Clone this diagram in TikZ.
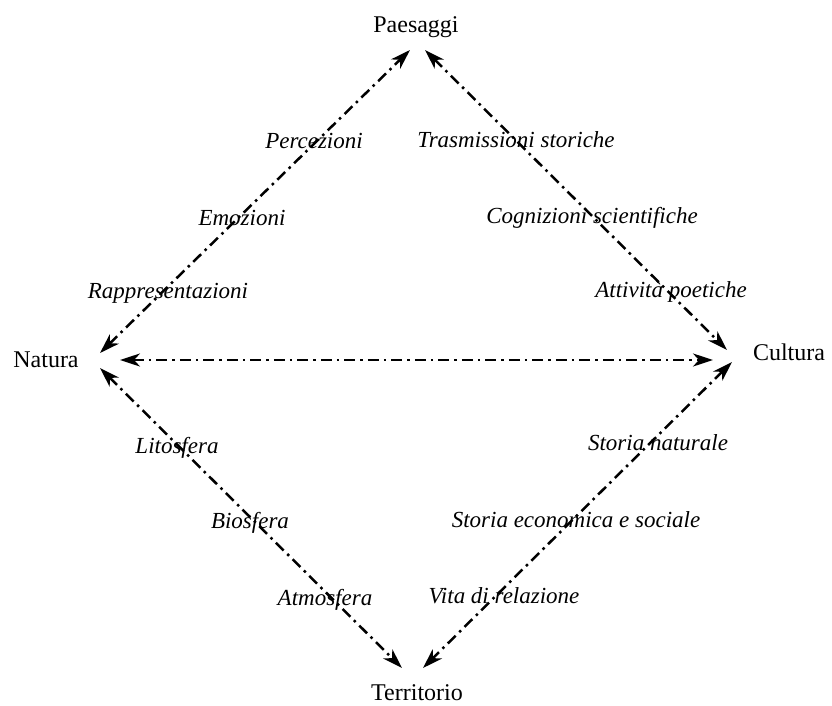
\documentclass[tikz,border=0pt]{standalone}
\usepackage{fontspec}
\setmainfont{Liberation Serif}
\usepackage{tikz}
\usetikzlibrary{arrows.meta}
\tikzset{pole/.style={inner sep=0pt,anchor=base,font=\fontsize{24}{28}\selectfont}}
\tikzset{aspect/.style={pole,font=\fontsize{23}{27}\selectfont\itshape}}

\begin{document}
\begin{tikzpicture}[x=1pt,y=-1pt,>={Stealth[length=20pt,width=13pt,inset=6pt]}]
  % lines are dash-dotted with heads at both ends
  \tikzstyle{link}=[<->,line width=2.5pt,dash pattern=on 11pt off 5pt on 2.5pt off 5pt]
  \useasboundingbox (0,0) rectangle (832,706);
  % The four poles of the diagram:
  \node (paesaggi)   [pole] at (416,33)  {Paesaggi};
  \node (natura)     [pole] at (46,367)  {Natura};
  \node (cultura)    [pole] at (789,360) {Cultura};
  \node (territorio) [pole] at (417,700) {Territorio};

  % upper left side
  \node (percezioni) [aspect] at (314,148) {Percezioni};
  \node (emozioni)   [aspect] at (242,225) {Emozioni};
  \node (rappr)      [aspect] at (168,298) {Rappresentazioni};
  % upper right side
  \node (trasm)      [aspect] at (516,147) {Trasmissioni storiche};
  \node (cogniz)     [aspect] at (592,223) {Cognizioni scientifiche};
  \node (poetiche)   [aspect] at (671,297) {Attività poetiche};
  % lower left side
  \node (litosfera)  [aspect] at (177,453) {Litosfera};
  \node (biosfera)   [aspect] at (250,528) {Biosfera};
  \node (atmosfera)  [aspect] at (325,605) {Atmosfera};
  % lower right side
  \node (stnat)      [aspect] at (658,450) {Storia naturale};
  \node (stecon)     [aspect] at (576,527) {Storia economica e sociale};
  \node (vita)       [aspect] at (504,603) {Vita di relazione};

  % The poles are now connected:
  \path[link]
    ([shift={(54,-14)}]natura.base) edge ([shift={(-6,17)}]paesaggi.base)
    ([shift={(9,17)}]paesaggi.base) edge ([shift={(-62,-10)}]cultura.base)
    ([shift={(74,-7)}]natura.base) edge ([shift={(-76,0)}]cultura.base)
    ([shift={(54,1)}]natura.base) edge ([shift={(-15,-32)}]territorio.base)
    ([shift={(-57,2)}]cultura.base) edge ([shift={(6,-32)}]territorio.base)
    ;
\end{tikzpicture}
\end{document}
